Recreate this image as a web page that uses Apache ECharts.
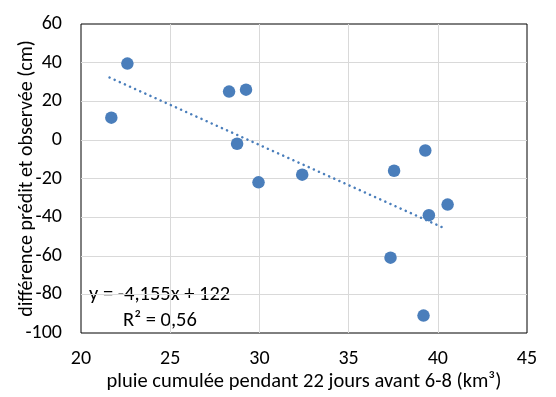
<!DOCTYPE html>
<html>
<head>
<meta charset="utf-8">
<script src="https://cdn.jsdelivr.net/npm/echarts@6/dist/echarts.min.js"></script>
<style>
  html, body { margin: 0; padding: 0; background: #fff; }
  #chart { width: 556px; height: 397px; }
</style>
</head>
<body>
<div id="chart"></div>
<script>
const rainX = [21.7, 22.6, 28.3, 29.25, 28.75, 29.95, 32.4, 39.3, 37.55, 40.55, 39.5, 37.35, 39.2]
const diffY = [11.5, 39.5, 25, 26, -2, -22, -18, -5.5, -16, -33.5, -39, -61, -91]
// extrémités de la courbe de tendance linéaire
const trendX = [21.6, 40.45]
const trendY = [32.3, -46.1]
const equationText = 'y = -4,155x + 122'
const r2Text = 'R² = 0,56'

const points = rainX.map((x, i) => [x, diffY[i]])
const trend = trendX.map((x, i) => [x, trendY[i]])

const blue = '#4a7ebb'
const font = 'Carlito, Calibri, "Liberation Sans", sans-serif'

const chart = echarts.init(document.getElementById('chart'))
chart.setOption({
  animation: false,
  backgroundColor: '#fff',
  textStyle: { fontFamily: font },
  grid: {
    left: 81, right: 29, top: 24, bottom: 64,
    outerBoundsMode: 'none', containLabel: false,
    show: true, borderColor: '#000', borderWidth: 1, backgroundColor: 'transparent'
  },
  xAxis: {
    type: 'value', min: 20, max: 45, interval: 5,
    name: 'pluie cumulée pendant 22 jours avant 6-8 (km³)',
    nameLocation: 'middle', nameGap: 38, nameMoveOverlap: false,
    nameTextStyle: { fontSize: 20.5, color: '#000', fontFamily: font },
    axisLine: { show: false },
    axisTick: { show: false },
    axisLabel: { fontSize: 20, color: '#000', margin: 16, fontFamily: font },
    splitLine: { showMinLine: false, showMaxLine: false, lineStyle: { color: '#d9d9d9', width: 1 } }
  },
  yAxis: {
    type: 'value', min: -100, max: 60, interval: 20,
    name: 'différence prédit et observée (cm)',
    nameLocation: 'middle', nameGap: 44, nameRotate: 90, nameMoveOverlap: false,
    nameTextStyle: { fontSize: 20, color: '#000', fontFamily: font },
    axisLine: { show: false },
    axisTick: { show: false },
    axisLabel: { fontSize: 20, color: '#000', margin: 19, fontFamily: font },
    splitLine: { showMinLine: false, showMaxLine: false, lineStyle: { color: '#d9d9d9', width: 1 } }
  },
  series: [
    {
      type: 'line',
      data: trend,
      showSymbol: false,
      symbol: 'none',
      lineStyle: { color: blue, width: 2.5, type: [0.1, 5.5], cap: 'round' },
      z: 2
    },
    {
      type: 'scatter',
      data: points,
      symbolSize: 12.5,
      itemStyle: { color: blue, opacity: 1 },
      z: 3
    }
  ],
  graphic: [
    {
      type: 'text', left: 89, top: 284,
      style: { text: equationText, fontSize: 20.5, fill: '#000', fontFamily: font }
    },
    {
      type: 'text', left: 123, top: 310,
      style: { text: r2Text, fontSize: 20.5, fill: '#000', fontFamily: font }
    }
  ]
})
</script>
</body>
</html>
